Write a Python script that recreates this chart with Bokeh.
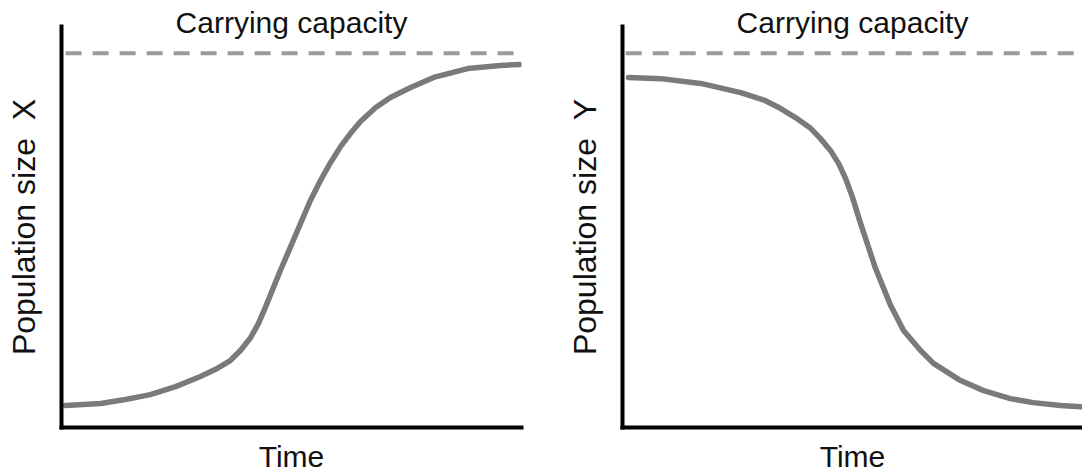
from bokeh.plotting import figure
from bokeh.layouts import row
from bokeh.models import FixedTicker, Range1d
from bokeh.embed import file_html
from bokeh.resources import INLINE

# ---- data (time in arbitrary units 0..10, population in % of axis height) ----
time_x = [0.09, 0.85, 1.39, 1.93, 2.48, 3.02, 3.35, 3.67, 3.89, 4.11, 4.28,
          4.43, 4.76, 5.13, 5.41, 5.63, 5.85, 6.07, 6.28, 6.50, 6.83, 7.15,
          7.59, 8.09, 8.83, 9.54, 9.96]
pop_x = [5.5, 6.0, 7.0, 8.2, 10.2, 12.7, 14.5, 16.7, 19.2, 22.4, 25.9,
         29.9, 39.2, 49.1, 56.6, 61.6, 66.1, 70.1, 73.3, 76.3, 79.8, 82.3,
         84.8, 87.3, 89.5, 90.3, 90.5]

time_y = [0.13, 0.83, 1.70, 2.57, 3.11, 3.43, 3.76, 4.09, 4.30, 4.52, 4.70,
          4.85, 5.00, 5.17, 5.50, 5.83, 6.11, 6.48, 6.76, 7.35, 7.85, 8.43,
          8.93, 9.52, 9.96]
pop_y = [87.3, 87.0, 85.8, 83.5, 81.5, 79.6, 77.3, 74.6, 72.1, 69.1, 65.8,
         62.1, 57.4, 51.1, 39.7, 30.4, 24.2, 19.2, 16.0, 11.7, 9.2, 7.2,
         6.2, 5.5, 5.2]

carrying_capacity = 93.3
cap_span_x = [0.09, 9.96]
cap_span_y = [0.07, 10.0]

title_text = "Carrying capacity"
y_labels = ["Population size\u00a0\u00a0X", "Population size\u00a0\u00a0Y"]
x_label = "Time"

FONT = "Liberation Sans"


def make_panel(t, pop, cap_t, ylabel, border_left, border_right, ylabel_standoff):
    p = figure(frame_width=460, frame_height=401,
               min_border_left=border_left, min_border_right=border_right,
               min_border_top=26, min_border_bottom=46,
               x_range=Range1d(0, 10), y_range=Range1d(0, 100),
               output_backend="svg", toolbar_location=None)
    p.outline_line_color = None
    p.xgrid.visible = False
    p.ygrid.visible = False
    p.background_fill_color = "white"
    p.border_fill_color = "white"

    p.title.text = title_text
    p.title.align = "center"
    p.title.text_font = FONT
    p.title.text_font_size = "30px"
    p.title.text_font_style = "normal"
    p.title.text_color = "#111111"
    p.title.standoff = -25

    for ax in (p.xaxis[0], p.yaxis[0]):
        ax.ticker = FixedTicker(ticks=[])
        ax.major_tick_line_color = None
        ax.minor_tick_line_color = None
        ax.major_tick_out = 0
        ax.major_tick_in = 0
        ax.major_label_standoff = 0
        ax.axis_line_color = "black"
        ax.axis_line_width = 4
        ax.axis_line_cap = "square"
        ax.axis_label_text_font = FONT
        ax.axis_label_text_font_style = "normal"
        ax.axis_label_text_color = "#111111"

    p.xaxis.axis_label = x_label
    p.xaxis.axis_label_text_font_size = "30px"
    p.xaxis.axis_label_standoff = 12
    p.yaxis.axis_label = ylabel
    p.yaxis.axis_label_text_font_size = "32px"
    p.yaxis.axis_label_standoff = ylabel_standoff

    p.line(cap_t, [carrying_capacity] * len(cap_t), line_color="#9a9a9a",
           line_width=4, line_dash="16 11")
    p.line(t, pop, line_color="#7a7a7a", line_width=5.5,
           line_cap="round", line_join="round")
    return p


p1 = make_panel(time_x, pop_x, cap_span_x, y_labels[0], 61, 27, 20)
p2 = make_panel(time_y, pop_y, cap_span_y, y_labels[1], 74, 0, 20)

layout = row(p1, p2)
open("out.html", "w").write(file_html(layout, INLINE))
